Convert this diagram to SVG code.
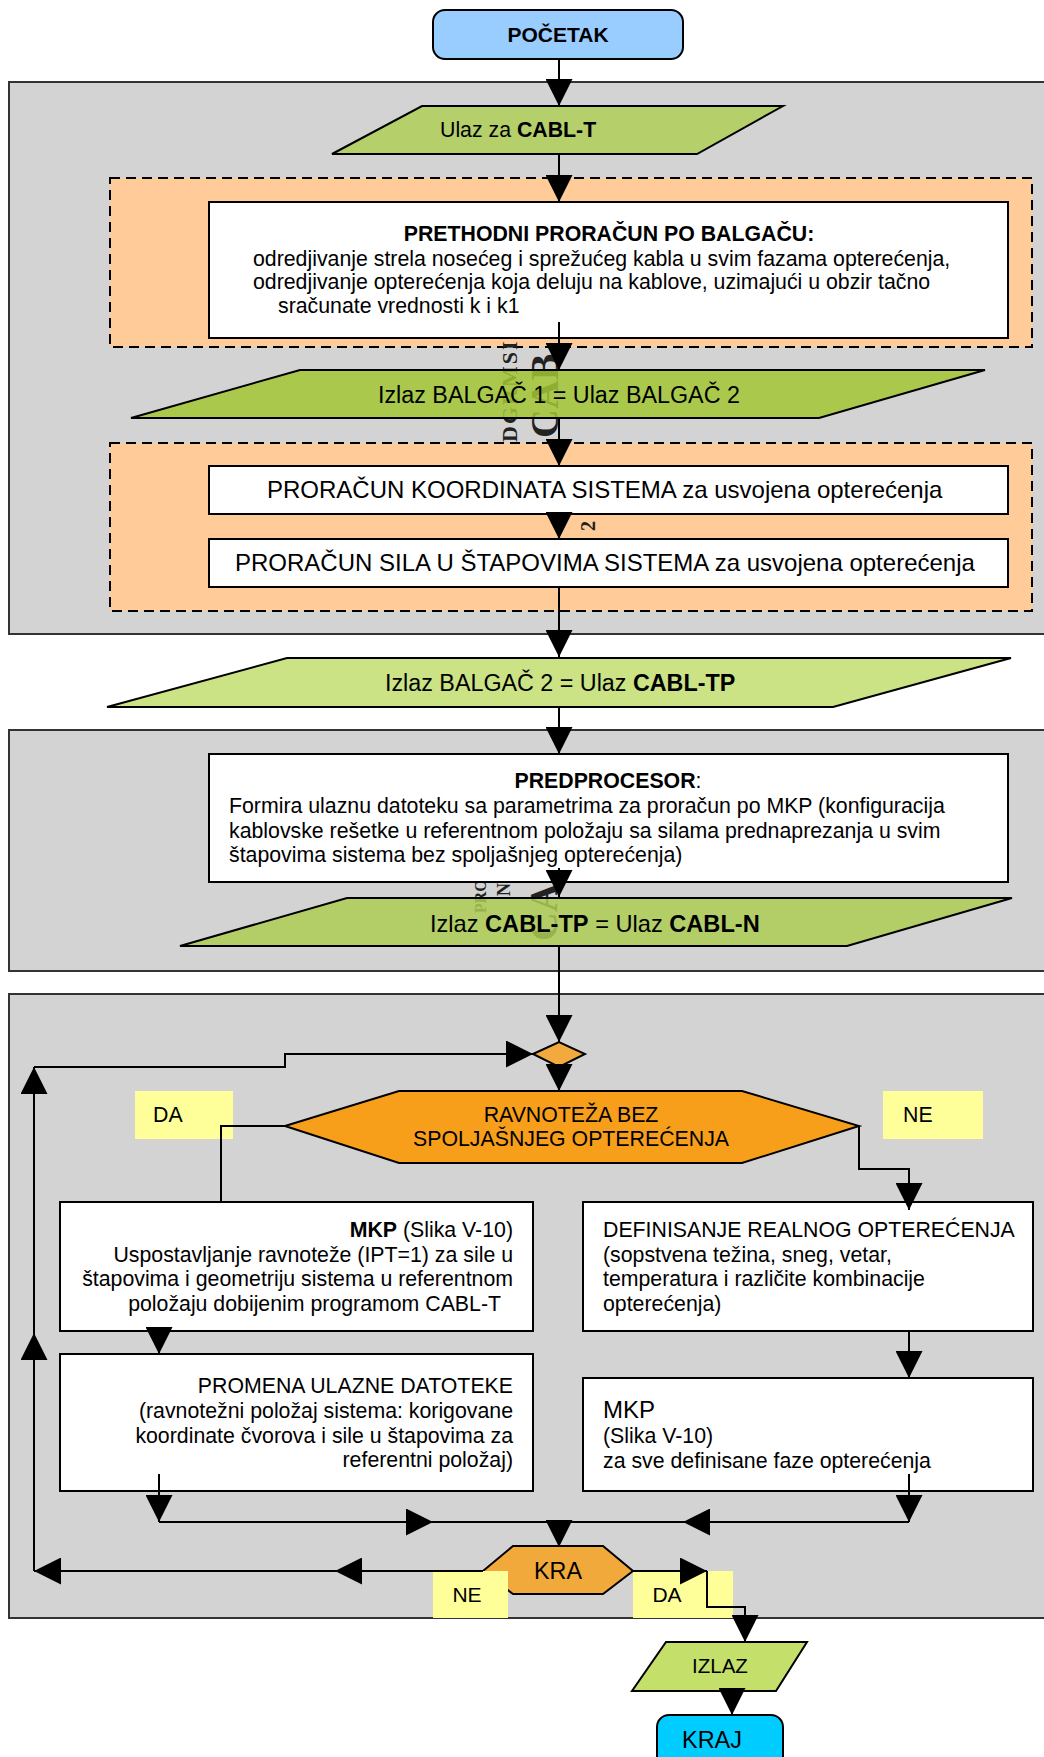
<svg xmlns="http://www.w3.org/2000/svg" width="1044" height="1757" viewBox="0 0 1044 1757">
<style>
text{font-family:"Liberation Sans",Arial,sans-serif;fill:#000}
.b{font-weight:bold}
.t21{font-size:21.3px}
.t23{font-size:23.3px}
.t24{font-size:24px}
.region{fill:#d3d3d3;stroke:#333;stroke-width:2}
.dash{fill:#ffcc99;stroke:#000;stroke-width:2;stroke-dasharray:10 6}
.box{fill:#fff;stroke:#000;stroke-width:2}
.shape{stroke:#000;stroke-width:2}
.lbl{fill:#ffff99}
.wm{font-family:"Liberation Serif","Times New Roman",serif;font-weight:bold;fill:#222}
.c{fill:none;stroke:#000;stroke-width:2}
</style>
<defs>
<marker id="ah" markerUnits="userSpaceOnUse" markerWidth="27" markerHeight="27" refX="27" refY="13.5" orient="auto" viewBox="0 0 27 27"><path d="M0,0 L27,13.5 L0,27 z" fill="#000"/></marker>
</defs>
<rect width="1044" height="1757" fill="#fff"/>

<g id="regions">
<rect class="region" x="9" y="82" width="1050" height="552"/>
<rect class="region" x="9" y="730" width="1050" height="241"/>
<rect class="region" x="9" y="994" width="1050" height="624"/>
<rect class="dash" x="110" y="178" width="922" height="169"/>
<rect class="dash" x="110" y="443" width="922" height="168"/>
</g>

<g id="watermark">
<text class="wm" font-size="22" letter-spacing="2" transform="translate(517,442) rotate(-90)">DGRMSI</text>
<text class="wm" font-size="40" transform="translate(558,438) rotate(-90)">CAB</text>
<text class="wm" font-size="20" font-weight="normal" transform="translate(595,531) rotate(-90)">2</text>
<text class="wm" font-size="16" transform="translate(486,913) rotate(-90)">PRO</text>
<text class="wm" font-size="18" transform="translate(510,896) rotate(-90)">N</text>
<text class="wm" font-size="40" transform="translate(557,941) rotate(-90)">CA</text>
</g>

<g id="pocetak">
<rect class="shape" x="433" y="10" width="250" height="49" rx="12" fill="#99ccff"/>
<text class="b" font-size="21px" x="558" y="42" text-anchor="middle">POČETAK</text>
</g>

<g id="ulaz-cablt">
<polygon class="shape" points="422,106 783,106 697,154 332,154" fill="#b5cf6b"/>
<text class="t21" x="440" y="137">Ulaz za <tspan class="b">CABL-T</tspan></text>
</g>

<g id="prethodni">
<rect class="box" x="209" y="202" width="799" height="136"/>
<text class="t21 b" x="609" y="241" text-anchor="middle">PRETHODNI PRORAČUN PO BALGAČU:</text>
<text class="t21" x="253" y="266">odredjivanje strela nosećeg i sprežućeg kabla u svim fazama opterećenja,</text>
<text class="t21" x="253" y="289">odredjivanje opterećenja koja deluju na kablove, uzimajući u obzir tačno</text>
<text class="t21" x="278" y="313">sračunate vrednosti k i k1</text>
</g>

<g id="balgac12">
<polygon class="shape" points="300,370 985,370 819,418 131,418" fill="#a2c734" fill-opacity="0.85"/>
<text class="t23" x="378" y="403">Izlaz BALGAČ 1 = Ulaz BALGAČ 2</text>
</g>

<g id="koordinate">
<rect class="box" x="209" y="466" width="799" height="48"/>
<text class="t24" x="267" y="498">PRORAČUN KOORDINATA SISTEMA za usvojena opterećenja</text>
</g>

<g id="sile">
<rect class="box" x="209" y="539" width="799" height="48"/>
<text class="t24" x="235" y="571">PRORAČUN SILA U ŠTAPOVIMA SISTEMA za usvojena opterećenja</text>
</g>

<g id="balgac2-cabltp">
<polygon class="shape" points="287,658 1011,658 833,707 107,707" fill="#cbe384"/>
<text class="t23" x="385" y="691">Izlaz BALGAČ 2 = Ulaz <tspan class="b">CABL-TP</tspan></text>
</g>

<g id="predprocesor">
<rect class="box" x="209" y="754" width="799" height="128"/>
<text class="t21" x="608" y="788" text-anchor="middle"><tspan class="b">PREDPROCESOR</tspan>:</text>
<text class="t21" x="229" y="813">Formira ulaznu datoteku sa parametrima za proračun po MKP (konfiguracija</text>
<text class="t21" x="229" y="838">kablovske rešetke u referentnom položaju sa silama prednaprezanja u svim</text>
<text class="t21" x="229" y="862">štapovima sistema bez spoljašnjeg opterećenja)</text>
</g>

<g id="cabltp-cabln">
<polygon class="shape" points="347,898 1012,898 847,946 180,946" fill="#adcb53" fill-opacity="0.85"/>
<text font-size="23.6px" x="430" y="932">Izlaz <tspan class="b">CABL-TP</tspan> = Ulaz <tspan class="b">CABL-N</tspan></text>
</g>

<g id="spoj">
<polygon class="shape" points="533,1054 559,1042 585,1054 559,1067" fill="#f2aa3e"/>
</g>

<g id="ravnoteza">
<polygon class="shape" points="285,1126 399,1091 742,1091 859,1126 742,1163 399,1163" fill="#f79e1b"/>
<text class="t21" x="571" y="1122" text-anchor="middle">RAVNOTEŽA BEZ</text>
<text class="t21" x="571" y="1146" text-anchor="middle">SPOLJAŠNJEG OPTEREĆENJA</text>
</g>

<g id="lbl-da1">
<rect class="lbl" x="135" y="1091" width="98" height="48"/>
<text class="t21" x="153" y="1122">DA</text>
</g>
<g id="lbl-ne1">
<rect class="lbl" x="883" y="1091" width="100" height="48"/>
<text class="t21" x="903" y="1122">NE</text>
</g>

<g id="mkp-ravnoteza">
<rect class="box" x="60" y="1202" width="473" height="129"/>
<text class="t21" x="513" y="1237" text-anchor="end"><tspan class="b">MKP</tspan> (Slika V-10)</text>
<text class="t21" x="513" y="1262" text-anchor="end">Uspostavljanje ravnoteže (IPT=1) za sile u</text>
<text class="t21" x="513" y="1286" text-anchor="end">štapovima i geometriju sistema u referentnom</text>
<text class="t21" x="501" y="1311" text-anchor="end">položaju dobijenim programom CABL-T</text>
</g>

<g id="definisanje">
<rect class="box" x="583" y="1202" width="450" height="129"/>
<text class="t21" x="603" y="1237">DEFINISANJE REALNOG OPTEREĆENJA</text>
<text class="t21" x="603" y="1262">(sopstvena težina, sneg, vetar,</text>
<text class="t21" x="603" y="1286">temperatura i različite kombinacije</text>
<text class="t21" x="603" y="1311">opterećenja)</text>
</g>

<g id="promena">
<rect class="box" x="60" y="1354" width="473" height="137"/>
<text class="t21" x="513" y="1393" text-anchor="end">PROMENA ULAZNE DATOTEKE</text>
<text class="t21" x="513" y="1418" text-anchor="end">(ravnotežni položaj sistema: korigovane</text>
<text class="t21" x="513" y="1443" text-anchor="end">koordinate čvorova i sile u štapovima za</text>
<text class="t21" x="513" y="1467" text-anchor="end">referentni položaj)</text>
</g>

<g id="mkp-faze">
<rect class="box" x="583" y="1378" width="450" height="113"/>
<text class="t24" x="603" y="1418">MKP</text>
<text class="t21" x="603" y="1443">(Slika V-10)</text>
<text class="t21" x="603" y="1468">za sve definisane faze opterećenja</text>
</g>

<g id="kra">
<polygon class="shape" points="483,1571 513,1546 603,1546 633,1571 603,1594 513,1594" fill="#f2a93b"/>
<text class="t23" x="558" y="1579" text-anchor="middle">KRA</text>
</g>

<g id="lbl-ne2">
<rect class="lbl" x="433" y="1571" width="75" height="47"/>
<text font-size="21px" x="467" y="1602" text-anchor="middle">NE</text>
</g>
<g id="lbl-da2">
<rect class="lbl" x="633" y="1571" width="100" height="47"/>
<text font-size="21px" x="667" y="1602" text-anchor="middle">DA</text>
</g>

<g id="izlaz">
<polygon class="shape" points="666,1642 807,1642 776,1691 632,1691" fill="#c4e06b"/>
<text font-size="20.5px" x="720" y="1673" text-anchor="middle">IZLAZ</text>
</g>

<g id="kraj">
<rect class="shape" x="657" y="1715" width="126" height="70" rx="12" fill="#00ccff"/>
<text font-size="23.5px" x="712" y="1748" text-anchor="middle">KRAJ</text>
</g>

<g id="connectors">
<path class="c" d="M559,59 V106" marker-end="url(#ah)"/>
<path class="c" d="M559,154 V202" marker-end="url(#ah)"/>
<path class="c" d="M559,322 V370" marker-end="url(#ah)"/>
<path class="c" d="M559,418 V466" marker-end="url(#ah)"/>
<path class="c" d="M559,514 V539" marker-end="url(#ah)"/>
<path class="c" d="M559,587 V657" marker-end="url(#ah)"/>
<path class="c" d="M559,707 V754" marker-end="url(#ah)"/>
<path class="c" d="M559,868 V897" marker-end="url(#ah)"/>
<path class="c" d="M559,946 V1042" marker-end="url(#ah)"/>
<path class="c" d="M559,1067 V1091" marker-end="url(#ah)"/>
<path class="c" d="M285,1126 H221 V1202"/>
<path class="c" d="M859,1126 V1169 H909 V1210" marker-end="url(#ah)"/>
<path class="c" d="M159,1331 V1354" marker-end="url(#ah)"/>
<path class="c" d="M909,1331 V1378" marker-end="url(#ah)"/>
<path class="c" d="M159,1474 V1522" marker-end="url(#ah)"/>
<path class="c" d="M159,1522 H433" marker-end="url(#ah)"/>
<path class="c" d="M433,1522 H683"/>
<path class="c" d="M909,1474 V1522" marker-end="url(#ah)"/>
<path class="c" d="M909,1522 H683" marker-end="url(#ah)"/>
<path class="c" d="M559,1522 V1547" marker-end="url(#ah)"/>
<path class="c" d="M483,1571 H335" marker-end="url(#ah)"/>
<path class="c" d="M335,1571 H34" marker-end="url(#ah)"/>
<path class="c" d="M34,1571 V1333" marker-end="url(#ah)"/>
<path class="c" d="M34,1333 V1067" marker-end="url(#ah)"/>
<path class="c" d="M34,1067 H285 V1054 H533" marker-end="url(#ah)"/>
<path class="c" d="M633,1571 H707" marker-end="url(#ah)"/>
<path class="c" d="M707,1571 V1607 H745 V1642" marker-end="url(#ah)"/>
<path class="c" d="M732,1690 V1715" marker-end="url(#ah)"/>
</g>
</svg>
